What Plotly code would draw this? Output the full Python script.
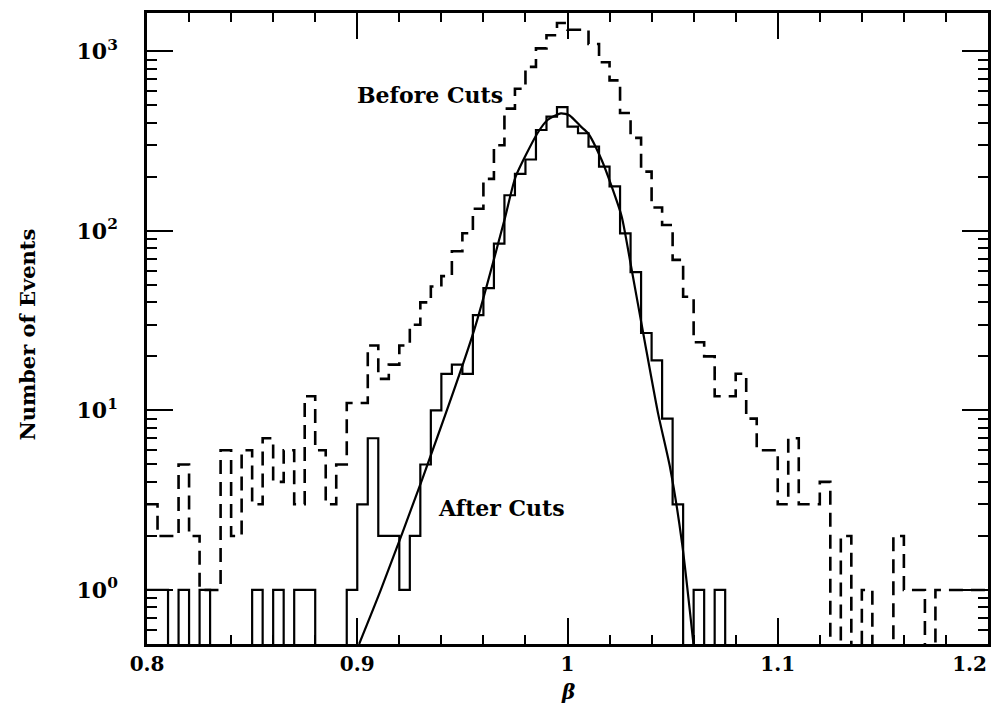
import numpy as np
import plotly.graph_objects as go

# ---- data ----
bin_edges = np.round(np.arange(0.800, 1.2001, 0.005), 3)   # 80 bins, width 0.005

before_cuts = [3, 2, 2, 5, 2, 1, 1, 6, 2, 6,
               3, 7, 4, 6, 3, 12, 6, 3, 5, 11,
               11, 23, 15, 18, 23, 30, 40, 49, 56, 77,
               97, 133, 195, 300, 480, 620, 820, 1040, 1230, 1440,
               1320, 1320, 1100, 870, 690, 454, 330, 214, 135, 108,
               69, 43, 24, 20, 12, 12, 16, 9, 6, 6,
               3, 7, 3, 3, 4, 0, 2, 0, 1, 0,
               0, 2, 1, 1, 0, 1, 1, 1, 1, 1]

after_cuts = [1, 1, 0, 1, 0, 1, 0, 0, 0, 0,
              1, 0, 1, 0, 1, 1, 0, 0, 0, 1,
              3, 7, 2, 2, 1, 2, 5, 10, 16, 18,
              16, 34, 48, 85, 158, 208, 250, 365, 433, 489,
              381, 350, 295, 228, 177, 97, 59, 27, 19, 9,
              3, 0, 1, 0, 1, 0, 0, 0, 0, 0,
              0, 0, 0, 0, 0, 0, 0, 0, 0, 0,
              0, 0, 0, 0, 0, 0, 0, 0, 0, 0]

fit_beta = [0.9009, 0.9112, 0.9311, 0.9556, 0.9700, 0.9753, 0.9857, 0.9905,
            0.9969, 1.0010, 1.0064, 1.0098, 1.0162, 1.0210, 1.0258, 1.0303,
            1.0366, 1.0431, 1.0488, 1.0545, 1.0600]
fit_events = [0.5, 1.0, 4.2, 28, 115, 200, 350, 415,
              452, 440, 381, 350, 249, 177, 120, 63,
              24.7, 9.6, 4.8, 1.82, 0.49]

x_tickvals = [0.8, 0.9, 1.0, 1.1]
x_ticktext = ["0.8", "0.9", "1", "1.1"]
x_edge_tickvals = [1.2]          # last label sits left of its tick, inside the page
x_edge_ticktext = ["1.2"]
x_all_ticks = [0.8, 0.9, 1.0, 1.1, 1.2]
y_tickvals = [1, 10, 100, 1000]
y_ticktext = ["10<sup>0</sup>", "10<sup>1</sup>", "10<sup>2</sup>", "10<sup>3</sup>"]

X_RANGE = [0.79999, 1.20001]
Y_RANGE = [-0.301, 3.214]
FLOOR = 0.1  # empty bins drawn below the visible range of the log axis


def step_y(vals):
    v = [x if x > 0 else FLOOR for x in vals]
    return v + [v[-1]]


fig = go.Figure()
fig.add_trace(go.Scatter(x=bin_edges, y=step_y(before_cuts), mode="lines",
                         line=dict(color="black", width=2.6, dash="14px,8px", shape="hv"),
                         showlegend=False, hoverinfo="skip"))
fig.add_trace(go.Scatter(x=bin_edges, y=step_y(after_cuts), mode="lines",
                         line=dict(color="black", width=2.2, shape="hv"),
                         showlegend=False, hoverinfo="skip"))
fig.add_trace(go.Scatter(x=fit_beta, y=fit_events, mode="lines",
                         line=dict(color="black", width=2.2, shape="spline", smoothing=0.6),
                         showlegend=False, hoverinfo="skip"))
# empty traces so that the extra (mirror / edge-label) axes are drawn
fig.add_trace(go.Scatter(x=[], y=[], xaxis="x2", yaxis="y2", showlegend=False,
                         hoverinfo="skip"))
fig.add_trace(go.Scatter(x=[], y=[], xaxis="x3", yaxis="y", showlegend=False,
                         hoverinfo="skip"))

FONT = "DejaVu Serif"
axis_common = dict(showline=True, linecolor="black", linewidth=2.5,
                   ticks="inside", tickcolor="black", tickwidth=2, ticklen=26,
                   showgrid=False, zeroline=False)
x_minor = dict(ticks="inside", ticklen=9, tickwidth=2, tickcolor="black", dtick=0.02)
y_minor = dict(ticks="inside", ticklen=10, tickwidth=2, tickcolor="black", dtick="D1")
xfont = dict(family=FONT, size=20, color="black", weight="bold")

fig.update_layout(
    xaxis=dict(range=X_RANGE, tickvals=x_tickvals, ticktext=x_ticktext,
               tickfont=xfont, minor=x_minor, ticklabelstandoff=0,
               **axis_common),
    xaxis3=dict(range=X_RANGE, tickvals=x_edge_tickvals, ticktext=x_edge_ticktext,
                tickfont=xfont, overlaying="x", side="bottom", anchor="y",
                ticks="inside", ticklen=26, tickwidth=2, tickcolor="black",
                ticklabelposition="outside left", ticklabelstandoff=6,
                showline=False, showgrid=False, zeroline=False),
    yaxis=dict(type="log", range=Y_RANGE, tickvals=y_tickvals, ticktext=y_ticktext,
               tickfont=dict(family=FONT, size=22, color="black", weight="bold"),
               minor=y_minor, ticklabelstandoff=22, **axis_common),
    xaxis2=dict(range=X_RANGE, tickvals=x_all_ticks, showticklabels=False,
                overlaying="x", side="top", anchor="y2", minor=x_minor, **axis_common),
    yaxis2=dict(type="log", range=Y_RANGE, tickvals=y_tickvals, showticklabels=False,
                overlaying="y", side="right", anchor="x2", minor=y_minor, **axis_common),
)

fig.add_annotation(text="Before Cuts", xref="x", yref="y", x=0.9346, y=np.log10(572),
                   showarrow=False, font=dict(family=FONT, size=22, color="black", weight="bold"))
fig.add_annotation(text="After Cuts", xref="x", yref="y", x=0.9684, y=np.log10(2.86),
                   showarrow=False, font=dict(family=FONT, size=22, color="black", weight="bold"))
fig.add_annotation(text="Number of Events", xref="paper", yref="paper", x=0, y=0.5,
                   xanchor="center", yanchor="middle",
                   xshift=-120, yshift=-6, textangle=-90, showarrow=False,
                   font=dict(family=FONT, size=21, color="black", weight="bold"))
fig.add_annotation(text="<i>β</i>", xref="paper", yref="paper", x=0.5, y=0,
                   xanchor="center", yanchor="middle", yshift=-48,
                   showarrow=False, font=dict(family=FONT, size=20, color="black", weight="bold"))

fig.update_layout(width=999, height=711, margin=dict(l=147, r=11, t=13, b=67),
                  paper_bgcolor="white", plot_bgcolor="white")

fig.write_html("out.html")
